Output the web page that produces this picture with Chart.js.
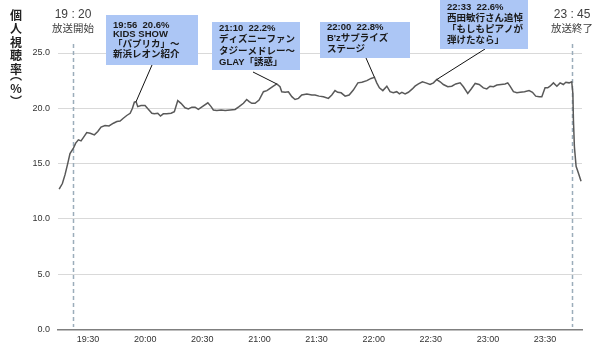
<!DOCTYPE html>
<html>
<head>
<meta charset="utf-8">
<script src="https://cdn.jsdelivr.net/npm/chart.js@4.4.0/dist/chart.umd.min.js"></script>
<style>
  body { margin: 0; background: #fff; }
  #wrap { position: relative; width: 600px; height: 359px; }
</style>
</head>
<body>
<div id="wrap"><canvas id="rating" width="600" height="359"></canvas></div>
<script>
// minutes after 19:00
const minutes = [
  14.8, 16.5, 17.9, 19.3, 20.5, 22.3, 23.5, 24.9, 26.3, 27.5, 29.3, 31.1, 33.3, 35.1, 36.8,
  38.9, 41.0, 43.3, 45.1, 46.8, 48.5, 50.3, 52.1, 53.3, 54.3, 55.2, 56.1, 57.8, 59.9, 61.4,
  63.5, 64.8, 66.6, 68.0, 69.5, 71.3, 73.6, 75.3, 77.1, 78.8, 80.9, 82.7, 84.5, 86.2,
  87.9, 90.0, 92.9, 94.6, 95.8, 97.6, 99.9, 102.0, 104.6, 107.2, 109.3, 111.6, 113.3, 114.6,
  116.0, 117.7, 119.8, 122.1, 123.9, 125.6, 127.3, 129.1, 130.8, 131.7, 133.5, 135.2, 137.0,
  138.7, 140.5, 142.2, 144.9, 147.5, 149.2, 151.3, 153.6, 156.2, 158.0, 159.7,
  161.1, 162.9, 165.0, 167.1, 169.3, 171.7, 173.8, 176.4, 178.6, 180.4, 181.6, 183.0, 184.8,
  186.9, 188.6, 190.3, 192.1, 193.5, 194.8, 196.5, 198.2, 200.3, 201.7, 203.5, 205.6, 207.4,
  209.6, 211.4, 213.1, 214.9, 216.6, 218.9, 221.0, 223.1, 225.4, 227.1, 229.4, 231.2, 233.3, 235.4,
  237.6, 239.4, 241.1, 242.9, 244.7, 246.9, 249.0, 250.4, 251.6, 253.4, 255.2, 256.9, 259.2,
  261.6, 263.4, 265.1, 266.9, 268.3, 270.0, 271.4, 272.6, 274.4, 276.2, 277.9, 279.6, 280.9,
  282.6, 284.0, 284.6, 284.9, 285.4, 286.3, 287.5, 288.9
];
const rating = [
  12.7, 13.2, 14.0, 15.0, 15.9, 16.4, 16.85, 17.15, 17.05, 17.35, 17.8, 17.75, 17.6, 17.9, 18.3,
  18.45, 18.4, 18.65, 18.8, 18.85, 19.1, 19.35, 19.55, 20.0, 20.55, 20.6, 20.15, 20.25, 20.25, 19.95,
  19.55, 19.5, 19.55, 19.3, 19.5, 19.5, 19.55, 19.7, 20.7, 20.45, 20.05, 19.95, 20.1, 20.1,
  19.9, 20.15, 20.5, 20.15, 19.85, 19.8, 19.85, 19.8, 19.85, 19.9, 20.15, 20.45, 20.8, 20.6,
  20.45, 20.45, 20.75, 21.5, 21.6, 21.8, 22.0, 22.2, 21.95, 21.5, 21.45, 21.5, 21.05,
  20.8, 20.9, 21.2, 21.3, 21.2, 21.2, 21.1, 21.05, 20.9, 21.2, 21.6,
  21.45, 21.4, 21.1, 21.2, 21.65, 22.3, 22.35, 22.5, 22.7, 22.8, 22.3, 21.85, 21.6,
  22.0, 21.5, 21.4, 21.5, 21.3, 21.45, 21.3, 21.45, 21.75, 22.0, 22.2, 22.4, 22.3,
  22.15, 22.3, 22.6, 22.4, 22.15, 21.95, 22.0, 22.2, 22.3, 21.95, 21.35, 21.75, 22.25, 22.15,
  21.85, 21.75, 22.0, 21.95, 22.1, 22.15, 22.2, 22.3, 22.0, 21.5, 21.4, 21.45, 21.5,
  21.6, 21.45, 21.1, 21.05, 21.05, 21.85, 21.85, 22.0, 22.3, 22.0, 22.3, 22.15, 22.35,
  22.3, 22.4, 21.35, 18.95, 16.55, 14.75, 14.15, 13.4
];
const xTicks = [30, 60, 90, 120, 150, 180, 210, 240, 270];

// broadcast start / end markers
const markers = [
  { at: 22.1, time: "19 : 20", text: "放送開始" },
  { at: 284.2, time: "23 : 45", text: "放送終了" }
];

// callouts: peak minute, box [x, y, w, h], text baseline ys, pointer start
const notes = [
  { at: 55.2, box: [106, 15, 92, 50], tx: 113, ty: [25, 34.5, 44.5, 54.5], from: [152, 65],
    lines: ["19:56  20.6%", "KIDS SHOW", "「パプリカ」～", "新浜レオン紹介"] },
  { at: 129.1, box: [212, 22, 88, 48], tx: 219, ty: [28, 39.5, 51, 62.5], from: [253, 72],
    lines: ["21:10  22.2%", "ディズニーファン", "タジーメドレー～", "GLAY「誘惑」"] },
  { at: 180.4, box: [320, 22, 90, 36], tx: 327, ty: [27, 38, 49], from: [366, 58],
    lines: ["22:00  22.8%", "B'zサプライズ", "ステージ"] },
  { at: 213.1, box: [440, 0, 88, 49], tx: 447, ty: [7.5, 18, 29, 40], from: [485, 49],
    lines: ["22:33  22.6%", "西田敏行さん追悼", "「もしもピアノが", "弾けたなら」"] }
];

function hhmm(v) {
  const h = 19 + Math.floor(v / 60);
  const m = Math.round(v % 60);
  return h + ":" + String(m).padStart(2, "0");
}

const overlay = {
  id: "overlay",
  beforeDatasetsDraw(chart) {
    const ctx = chart.ctx;
    const xs = chart.scales.x;
    ctx.save();
    ctx.strokeStyle = "#9badba";
    ctx.lineWidth = 1.5;
    ctx.setLineDash([4, 3]);
    markers.forEach(m => {
      const px = Math.round(xs.getPixelForValue(m.at)) + 0.5;
      ctx.beginPath();
      ctx.moveTo(px, 44);
      ctx.lineTo(px, 327);
      ctx.stroke();
    });
    ctx.restore();
  },
  afterDraw(chart) {
    const ctx = chart.ctx;
    const xs = chart.scales.x, ys = chart.scales.y;
    ctx.save();

    // marker labels
    ctx.fillStyle = "#404040";
    ctx.textAlign = "center";
    ctx.textBaseline = "middle";
    markers.forEach(m => {
      const px = xs.getPixelForValue(m.at);
      ctx.font = '12px "Liberation Sans", Arial, sans-serif';
      ctx.fillText(m.time, px, 15);
      ctx.font = '10.5px "Noto Sans CJK JP", sans-serif';
      ctx.fillText(m.text, px, 28);
    });

    // callouts
    notes.forEach(n => {
      const i = minutes.indexOf(n.at);
      const px = xs.getPixelForValue(n.at);
      const py = ys.getPixelForValue(rating[i]);
      ctx.strokeStyle = "#111";
      ctx.lineWidth = 1;
      ctx.beginPath();
      ctx.moveTo(n.from[0], n.from[1]);
      ctx.lineTo(px, py);
      ctx.stroke();
      ctx.fillStyle = "rgb(172,198,245)";
      ctx.fillRect(n.box[0], n.box[1], n.box[2], n.box[3]);
      ctx.fillStyle = "#1a1a1a";
      ctx.textAlign = "left";
      ctx.textBaseline = "middle";
      ctx.font = 'bold 9.5px "Liberation Sans", "Noto Sans CJK JP", sans-serif';
      n.lines.forEach((t, k) => ctx.fillText(t, n.tx, n.ty[k]));
    });

    // vertical axis title
    ctx.fillStyle = "#222";
    ctx.textAlign = "center";
    ctx.textBaseline = "middle";
    ctx.font = 'bold 12px "Noto Sans CJK JP", sans-serif';
    const titleY = [15, 28.5, 42, 55.5, 69, 75, 88, 101];
    ["個", "人", "視", "聴", "率", "︵", "%", "︶"].forEach((c, k) => {
      ctx.fillText(c, 16, titleY[k]);
    });
    ctx.restore();
  }
};

new Chart(document.getElementById("rating"), {
  type: "line",
  data: {
    datasets: [
      {
        data: minutes.map((m, i) => ({ x: m, y: rating[i] })),
        borderColor: "#595959",
        borderWidth: 1.5,
        pointRadius: 0,
        tension: 0,
        fill: false,
      },
    ],
  },
  options: {
    responsive: false,
    animation: false,
    layout: { padding: { top: 53, right: 18, left: 0, bottom: 0 } },
    plugins: {
      legend: { display: false },
      tooltip: { enabled: false },
    },
    scales: {
      x: {
        type: "linear",
        min: 14.2,
        max: 289.4,
        afterBuildTicks: scale => {
          scale.ticks = xTicks.map(v => ({ value: v }));
        },
        afterFit: scale => {
          scale.height = 29.5;
        },
        grid: { display: false, drawTicks: false },
        border: { color: "#7f7f7f", width: 1.5 },
        ticks: {
          padding: 5,
          maxRotation: 0,
          autoSkip: false,
          color: "#333",
          font: { family: '"Liberation Sans", Arial, sans-serif', size: 9 },
          callback: v => hhmm(v),
        },
      },
      y: {
        min: 0,
        max: 25,
        afterFit: scale => {
          scale.width = 58;
        },
        grid: { color: "#d9d9d9", lineWidth: 1, drawTicks: false },
        border: { display: false },
        ticks: {
          stepSize: 5,
          padding: 8,
          color: "#333",
          font: { family: '"Liberation Sans", Arial, sans-serif', size: 9 },
          callback: v => v.toFixed(1),
        },
      },
    },
  },
  plugins: [overlay],
});
</script>
</body>
</html>
